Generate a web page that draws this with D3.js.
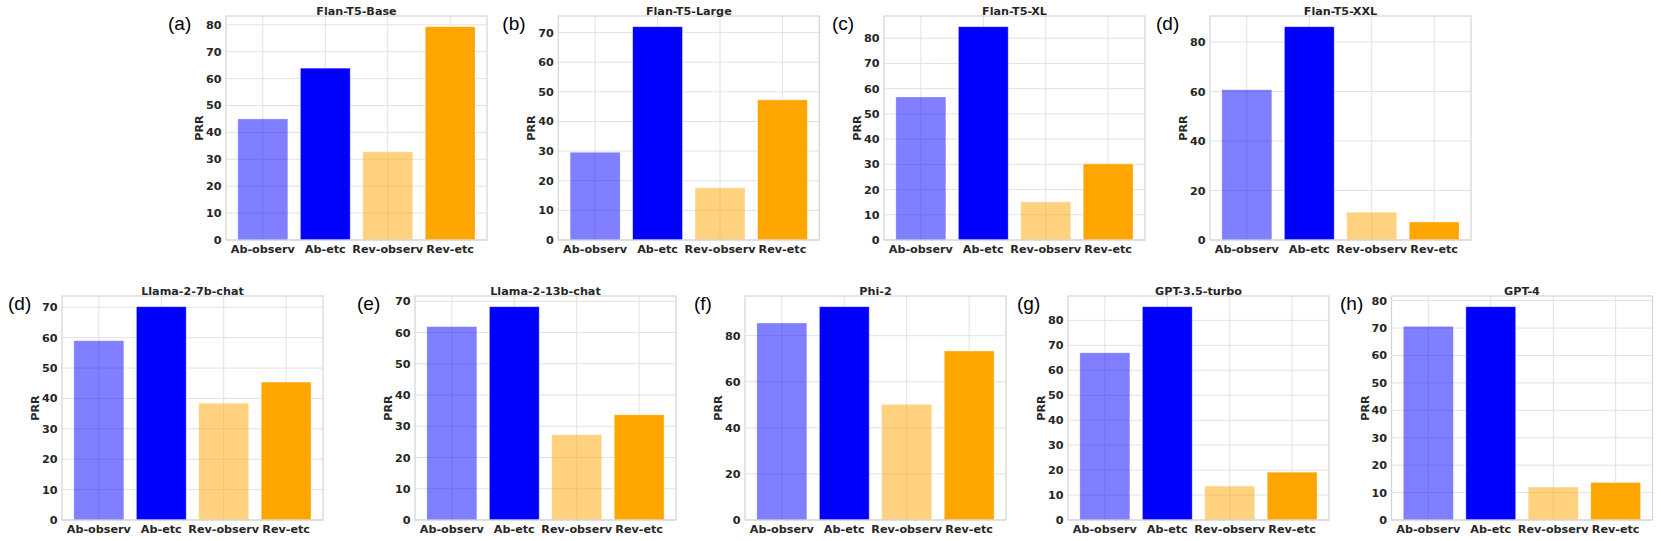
<!DOCTYPE html>
<html>
<head>
<meta charset="utf-8">
<script src="https://cdn.jsdelivr.net/npm/d3@7"></script>
<style>
  html, body { margin: 0; padding: 0; background: #ffffff; }
  svg { display: block; }
</style>
</head>
<body>
<svg id="chart" width="1661" height="541"></svg>
<script>
// ---------------- data ----------------
const categories = ["Ab-observ", "Ab-etc", "Rev-observ", "Rev-etc"];
const models = ["Flan-T5-Base", "Flan-T5-Large", "Flan-T5-XL", "Flan-T5-XXL",
                "Llama-2-7b-chat", "Llama-2-13b-chat", "Phi-2", "GPT-3.5-turbo", "GPT-4"];
const panelLabels = ["(a)", "(b)", "(c)", "(d)", "(d)", "(e)", "(f)", "(g)", "(h)"];
const abObserv  = [45.0, 29.6, 56.7, 60.7, 59.0, 61.9, 85.5, 67.0, 70.6];
const abEtc     = [63.9, 72.0, 84.6, 86.2, 70.2, 68.3, 92.6, 85.5, 77.8];
const revObserv = [32.8, 17.6, 15.1, 11.2, 38.4, 27.3, 50.2, 13.6, 12.0];
const revEtc    = [79.3, 47.3, 30.2,  7.3, 45.4, 33.7, 73.4, 19.2, 13.7];
const yTickStep = [10, 10, 10, 20, 10, 10, 20, 10, 10];
const yLabel = "PRR";

// ---------------- styling / layout ----------------
const barColors = ["#0000ff", "#0000ff", "#ffa500", "#ffa500"];
const barAlpha  = [0.5, 1, 0.5, 1];
const textColor = "#262626";
const gridColor = "#e2e2e2";
const spineColor = "#d4d4d4";
const fontBold = "'DejaVu Sans', sans-serif";
const axW = 261, axH = 224;
const layout = [
  {x: 226,    y: 16,  lab: 58},
  {x: 558.3,  y: 16,  lab: 56},
  {x: 884,    y: 16,  lab: 52},
  {x: 1210,   y: 16,  lab: 54},
  {x: 62,     y: 296, lab: 54},
  {x: 415,    y: 296, lab: 58},
  {x: 745,    y: 296, lab: 51},
  {x: 1068,   y: 296, lab: 51},
  {x: 1391.5, y: 296, lab: 51.5}
];

const svg = d3.select("#chart");

models.forEach((model, i) => {
  const L = layout[i];
  const vals = [abObserv[i], abEtc[i], revObserv[i], revEtc[i]];
  const ymax = d3.max(vals) * 1.05;

  // matplotlib-like x: bars at 0..3, width 0.8, margins 5%
  const x = d3.scaleLinear().domain([-0.59, 3.59]).range([0, axW]);
  const y = d3.scaleLinear().domain([0, ymax]).range([axH, 0]);
  const ticks = d3.range(0, ymax + 1e-9, yTickStep[i]);

  const g = svg.append("g").attr("transform", `translate(${L.x},${L.y})`);

  // grid
  g.append("g").selectAll("line.h").data(ticks).join("line")
    .attr("x1", 0).attr("x2", axW)
    .attr("y1", d => y(d)).attr("y2", d => y(d))
    .attr("stroke", gridColor).attr("stroke-width", 1);
  g.append("g").selectAll("line.v").data(categories).join("line")
    .attr("x1", (d, k) => x(k)).attr("x2", (d, k) => x(k))
    .attr("y1", 0).attr("y2", axH)
    .attr("stroke", gridColor).attr("stroke-width", 1);

  // bars
  g.append("g").selectAll("rect").data(vals).join("rect")
    .attr("x", (d, k) => x(k - 0.4))
    .attr("width", (d, k) => x(k + 0.4) - x(k - 0.4))
    .attr("y", d => y(d))
    .attr("height", d => y(0) - y(d))
    .attr("fill", (d, k) => barColors[k])
    .attr("fill-opacity", (d, k) => barAlpha[k])
    .attr("stroke", "#ffffff")
    .attr("stroke-opacity", (d, k) => barAlpha[k] * 0.6)
    .attr("stroke-width", 0.8);

  // frame
  g.append("rect").attr("x", 0).attr("y", 0).attr("width", axW).attr("height", axH)
    .attr("fill", "none").attr("stroke", spineColor).attr("stroke-width", 1.2);

  // y tick labels
  g.append("g").selectAll("text").data(ticks).join("text")
    .attr("x", -4.5).attr("y", d => y(d) + 4)
    .attr("text-anchor", "end")
    .attr("font-family", fontBold).attr("font-weight", "bold").attr("font-size", "11.2px")
    .attr("fill", textColor)
    .text(d => d3.format("d")(d));

  // x tick labels
  g.append("g").selectAll("text").data(categories).join("text")
    .attr("x", (d, k) => x(k)).attr("y", axH + 13)
    .attr("text-anchor", "middle")
    .attr("font-family", fontBold).attr("font-weight", "bold").attr("font-size", "11.2px")
    .attr("fill", textColor)
    .text(d => d);

  // title
  g.append("text")
    .attr("x", axW / 2).attr("y", -1.5)
    .attr("text-anchor", "middle")
    .attr("font-family", fontBold).attr("font-weight", "bold").attr("font-size", "11.2px")
    .attr("fill", textColor)
    .text(model);

  // y label
  g.append("text")
    .attr("transform", `translate(-23,${axH / 2}) rotate(-90)`)
    .attr("text-anchor", "middle")
    .attr("font-family", fontBold).attr("font-weight", "bold").attr("font-size", "11.2px")
    .attr("fill", textColor)
    .text(yLabel);

  // panel label
  g.append("text")
    .attr("x", -L.lab).attr("y", 13.5)
    .attr("font-family", "'Liberation Sans', Arial, sans-serif").attr("font-size", "19px")
    .attr("fill", "#000000")
    .text(panelLabels[i]);
});
</script>
</body>
</html>
